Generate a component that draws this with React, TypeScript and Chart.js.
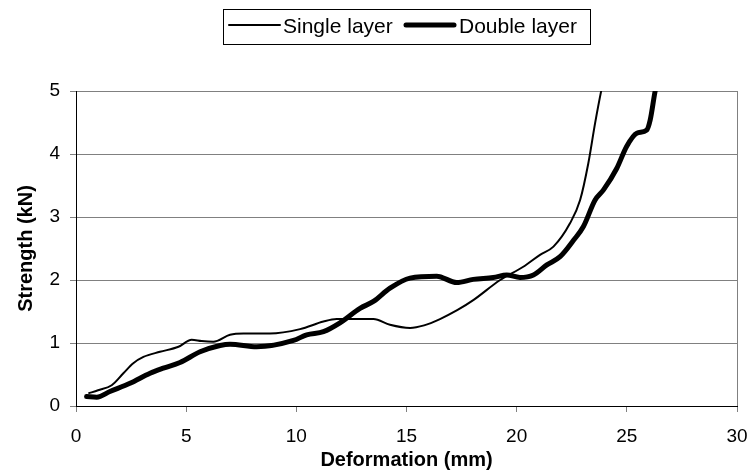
import React, { useEffect, useRef } from "react";
import { Chart, registerables } from "chart.js";

Chart.register(...registerables);

const seriesNames = ["Single layer", "Double layer"];

const singleX = [0.56, 1.0, 1.62, 2.15, 2.6, 3.06, 3.81, 4.65, 5.25, 5.7, 6.23, 6.99, 7.6, 8.8, 10.17, 11.23, 11.83, 12.9, 13.5, 14.25, 15.16, 15.8, 16.52, 17.3, 18.03, 19.25, 20.3, 21.06, 21.67, 22.42, 22.88, 23.25, 23.56, 23.83, 23.9];
const singleY = [0.2, 0.25, 0.33, 0.52, 0.68, 0.78, 0.86, 0.94, 1.05, 1.03, 1.02, 1.13, 1.15, 1.15, 1.22, 1.34, 1.38, 1.38, 1.38, 1.29, 1.24, 1.28, 1.38, 1.52, 1.68, 2.0, 2.21, 2.4, 2.53, 2.9, 3.27, 3.85, 4.49, 4.99, 5.1];

const doubleX = [0.48, 0.94, 1.54, 2.45, 3.36, 3.96, 4.72, 5.63, 6.54, 6.99, 8.2, 9.87, 10.47, 11.23, 11.98, 12.89, 13.5, 14.25, 15.16, 16.37, 17.28, 18.03, 18.94, 19.55, 20.15, 20.76, 21.37, 21.97, 22.58, 23.03, 23.56, 23.94, 24.54, 24.99, 25.45, 25.9, 26.06, 26.28, 26.35];
const doubleY = [0.15, 0.14, 0.23, 0.36, 0.52, 0.6, 0.69, 0.86, 0.96, 0.98, 0.94, 1.04, 1.13, 1.18, 1.32, 1.55, 1.66, 1.87, 2.03, 2.06, 1.96, 2.01, 2.04, 2.08, 2.04, 2.08, 2.24, 2.37, 2.63, 2.85, 3.27, 3.43, 3.77, 4.12, 4.33, 4.38, 4.54, 4.99, 5.1];

const xTitle = "Deformation (mm)";
const yTitle = "Strength (kN)";
const xMin = 0, xMax = 30, xStep = 5;
const yMin = 0, yMax = 5, yStep = 1;

const FONT = "'Liberation Sans', Arial, sans-serif";
const GRID = "#808080";

const toPoints = (xs: number[], ys: number[]) => xs.map((x, i) => ({ x, y: ys[i] }));

const boxLegend = {
  id: "boxLegend",
  afterDraw(chart: any) {
    const ctx = chart.ctx;
    ctx.save();
    ctx.strokeStyle = "#000";
    ctx.lineWidth = 1;
    ctx.strokeRect(223.5, 9.5, 367, 35);
    const items = [
      { x1: 229, x2: 280, tx: 283 },
      { x1: 406, x2: 454, tx: 459 },
    ];
    chart.data.datasets.forEach((ds: any, i: number) => {
      const it = items[i];
      ctx.beginPath();
      ctx.strokeStyle = ds.borderColor;
      ctx.lineWidth = ds.borderWidth;
      ctx.lineCap = "round";
      ctx.moveTo(it.x1, 25);
      ctx.lineTo(it.x2, 25);
      ctx.stroke();
      ctx.fillStyle = "#000";
      ctx.font = `21px ${FONT}`;
      ctx.textBaseline = "alphabetic";
      ctx.textAlign = "left";
      ctx.fillText(ds.label, it.tx, 32.5);
    });
    ctx.restore();
  },
};

export default function App() {
  const ref = useRef<HTMLCanvasElement | null>(null);
  useEffect(() => {
    if (!ref.current) return;
    const chart = new Chart(ref.current, {
      type: "line",
      data: {
        datasets: [
          {
            label: seriesNames[0],
            data: toPoints(singleX, singleY),
            borderColor: "#000",
            borderWidth: 2,
            pointRadius: 0,
            cubicInterpolationMode: "monotone",
            borderJoinStyle: "round",
            clip: 0,
          },
          {
            label: seriesNames[1],
            data: toPoints(doubleX, doubleY),
            borderColor: "#000",
            borderWidth: 5,
            pointRadius: 0,
            cubicInterpolationMode: "monotone",
            borderJoinStyle: "round",
            borderCapStyle: "round",
            clip: 0,
          },
        ],
      } as any,
      options: {
        animation: false,
        responsive: false,
        devicePixelRatio: 1,
        layout: { padding: { top: 91, right: 13, left: 0, bottom: 0 } },
        plugins: { legend: { display: false }, tooltip: { enabled: false } },
        scales: {
          x: {
            type: "linear",
            min: xMin,
            max: xMax,
            afterFit: (s: any) => { s.height = 65; s.paddingLeft = 0; s.paddingRight = 0; },
            ticks: { stepSize: xStep, color: "#000", padding: 13, font: { family: FONT, size: 19 } },
            grid: {
              color: (c: any) => (c.tick && c.tick.value === xMax ? GRID : "rgba(0,0,0,0)"),
              tickColor: GRID,
              tickLength: 6,
              lineWidth: 1,
            },
            border: { color: "#000", width: 1 },
            title: {
              display: true,
              text: xTitle,
              color: "#000",
              font: { family: FONT, size: 20, weight: "bold", lineHeight: 1.1 },
              padding: { top: 0, bottom: 0 },
            },
          },
          y: {
            type: "linear",
            min: yMin,
            max: yMax,
            afterFit: (s: any) => { s.width = 76; s.paddingTop = 0; s.paddingBottom = 0; },
            ticks: { stepSize: yStep, color: "#000", padding: 10, font: { family: FONT, size: 19 } },
            grid: {
              color: (c: any) => (c.tick && c.tick.value === yMin ? "rgba(0,0,0,0)" : GRID),
              tickColor: GRID,
              tickLength: 6,
              lineWidth: 1,
            },
            border: { color: "#000", width: 1 },
            title: {
              display: true,
              text: yTitle,
              color: "#000",
              font: { family: FONT, size: 20, weight: "bold", lineHeight: 1.2 },
              padding: { top: 14, bottom: 0 },
            },
          },
        },
      } as any,
      plugins: [boxLegend],
    });
    return () => chart.destroy();
  }, []);
  return (
    <div style={{ position: "fixed", left: 0, top: 0, width: 750, height: 471, background: "#fff" }}>
      <canvas ref={ref} width={750} height={471} />
    </div>
  );
}
